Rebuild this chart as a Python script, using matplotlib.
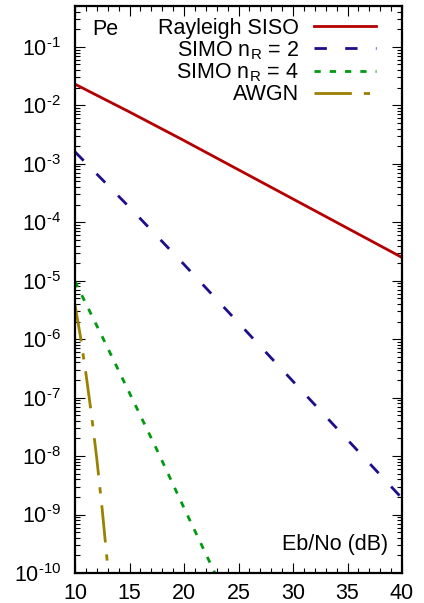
import matplotlib
matplotlib.use("Agg")
import matplotlib.pyplot as plt
from matplotlib.ticker import LogLocator, FixedLocator, FuncFormatter, MultipleLocator
import numpy as np

# ---- data ----
x_main = [10, 15, 20, 25, 30, 35, 40]
pe_siso = [2.3e-2, 7.7e-3, 2.5e-3, 7.9e-4, 2.5e-4, 7.9e-5, 2.5e-5]
pe_simo2 = [1.6e-3, 1.8e-4, 1.9e-5, 1.9e-6, 1.9e-7, 1.9e-8, 1.9e-9]
x_simo4 = [10, 12.5, 15, 17.5, 20, 22.5, 25]
pe_simo4 = [9.7e-6, 1.1e-6, 1.2e-7, 1.3e-8, 1.3e-9, 1.35e-10, 1.4e-11]
x_awgn = [10, 10.5, 11, 11.5, 12, 12.5, 13, 13.5]
pe_awgn = [3.9e-6, 1.1e-6, 2.6e-7, 5.3e-8, 9e-9, 1.2e-9, 1.3e-10, 1.1e-11]
labels = ["Rayleigh SISO", r"SIMO n$_\mathregular{R}$ = 2",
          r"SIMO n$_\mathregular{R}$ = 4", "AWGN"]
x_ticks = [10, 15, 20, 25, 30, 35, 40]

plt.rcParams['font.family'] = ['Liberation Sans', 'DejaVu Sans']
plt.rcParams['mathtext.fontset'] = 'custom'
plt.rcParams['mathtext.rm'] = 'Liberation Sans'
plt.rcParams['mathtext.it'] = 'Liberation Sans:italic'
plt.rcParams['mathtext.bf'] = 'Liberation Sans:bold'
plt.rcParams['lines.scale_dashes'] = False

FS = 15.5
fig = plt.figure(figsize=(4.24, 6.03), dpi=100)
ax = fig.add_axes([75/424, 30/603, 327/424, 567/603])

lw = 2.0
ax.plot(x_main, pe_siso, color='#b40000', lw=lw, label=labels[0])
ax.plot(x_main, pe_simo2, color='#1c0e8c', lw=lw, dashes=(8.9, 13.2), label=labels[1])
ax.plot(x_simo4, pe_simo4, color='#009a10', lw=lw, dashes=(4.5, 6.5), label=labels[2])
ax.plot(x_awgn, pe_awgn, color='#9c8000', lw=lw, dashes=(26.9, 8.6, 4.5, 8.6), label=labels[3])

ax.set_yscale('log')
ax.set_xlim(10, 40)
ax.set_ylim(1e-10, 0.5)

ax.xaxis.set_major_locator(FixedLocator(x_ticks))
ax.xaxis.set_minor_locator(MultipleLocator(1))
ax.yaxis.set_major_locator(LogLocator(base=10, numticks=20))
ax.yaxis.set_minor_locator(LogLocator(base=10, subs=np.arange(2, 10), numticks=20))

def yfmt(v, pos):
    e = int(round(np.log10(v)))
    return r'$\mathregular{10^{\text{-}%d}}$' % abs(e)
ax.yaxis.set_major_formatter(FuncFormatter(yfmt))
ax.xaxis.set_major_formatter(FuncFormatter(lambda v, p: '%d' % v))

ax.tick_params(which='both', direction='in', top=True, right=True, labelsize=FS, color='black')
ax.tick_params(which='major', length=7, width=0.8)
ax.tick_params(which='minor', length=3.5, width=0.8)
ax.tick_params(axis='y', which='major', pad=10)
ax.tick_params(axis='x', which='major', pad=7.5)
for s in ax.spines.values():
    s.set_linewidth(1.6)

ax.text(0.052, 0.959, 'Pe', transform=ax.transAxes, fontsize=FS, ha='left', va='center')
ax.text(0.957, 0.051, 'Eb/No (dB)', transform=ax.transAxes, fontsize=FS, ha='right', va='center')

leg = ax.legend(loc='upper right', bbox_to_anchor=(376/424, 1 - 18/603),
                bbox_transform=fig.transFigure, frameon=False, markerfirst=False,
                fontsize=FS, handlelength=2.9, handletextpad=0.68, labelspacing=0.0,
                borderpad=0, borderaxespad=0)
for t in leg.get_texts():
    t.set_ha('right')

fig.savefig('out.png', dpi=100)
